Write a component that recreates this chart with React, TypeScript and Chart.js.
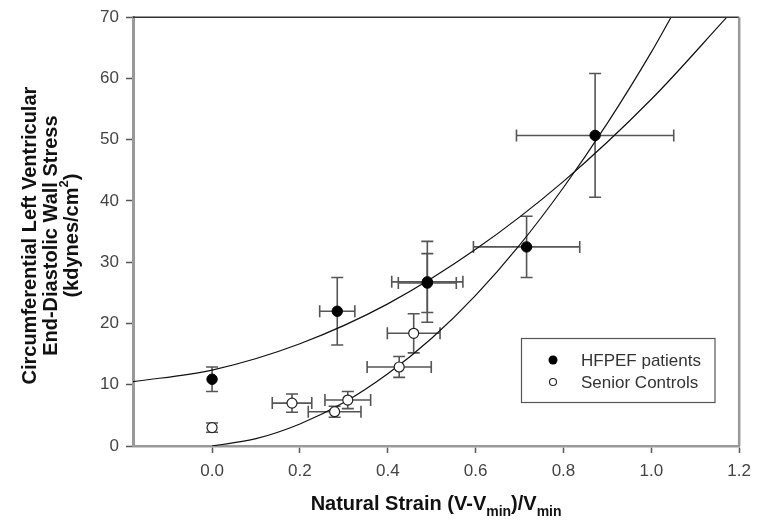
import React, { useEffect, useRef } from 'react';
import { Chart, registerables } from 'chart.js';

Chart.register(...registerables);

// ---- Data ----
const xTickValues = [0, 0.2, 0.4, 0.6, 0.8, 1.0, 1.2];
const yTickValues = [0, 10, 20, 30, 40, 50, 60, 70];

// HFPEF patients (filled)
const hfX = [0.0, 0.285, 0.49, 0.49, 0.716, 0.872];
const hfY = [10.9, 22.0, 26.8, 26.6, 32.5, 50.7];
const hfXErr = [0, 0.04, 0.081, 0.066, 0.121, 0.179];
const hfYErr = [2.0, 5.5, 6.6, 4.8, 5.0, 10.1];

// Senior Controls (open)
const scX = [0.0, 0.182, 0.279, 0.309, 0.426, 0.459];
const scY = [3.0, 7.0, 5.6, 7.5, 12.9, 18.4];
const scXErr = [0, 0.045, 0.06, 0.052, 0.073, 0.06];
const scYErr = [0.75, 1.5, 0.9, 1.4, 1.7, 3.2];

// Fitted curves
const curve1X = [-0.18, 0, 0.2, 0.4, 0.6, 0.8, 1.0, 1.172];
const curve1Y = [10.5, 12.4, 16.7, 23.2, 32.1, 43.2, 56.6, 70];
const curve2X = [0, 0.1, 0.2, 0.3, 0.4, 0.5, 0.6, 0.7, 0.8, 0.9, 1.0, 1.045];
const curve2Y = [0, 1.2, 3.6, 7.1, 11.8, 17.6, 24.6, 32.8, 42.2, 52.7, 64.3, 70];

const legendLabels = ['HFPEF patients', 'Senior Controls'];
const yTitleLines = ['Circumferential Left Ventricular', 'End-Diastolic Wall Stress'];

const FONT = "'Liberation Sans', Arial, Helvetica, sans-serif";

const toPts = (xs: number[], ys: number[]) => xs.map((x, i) => ({ x, y: ys[i] }));

const errorBarPlugin = {
  id: 'errorBars',
  beforeDatasetsDraw(chart: any) {
    const { ctx, scales } = chart;
    const xs = scales.x;
    const ys = scales.y;
    const cap = 6;
    const groups = [
      { X: hfX, Y: hfY, XE: hfXErr, YE: hfYErr },
      { X: scX, Y: scY, XE: scXErr, YE: scYErr },
    ];
    ctx.save();
    ctx.strokeStyle = '#555';
    ctx.lineWidth = 1.6;
    groups.forEach((g) => {
      g.X.forEach((xv, i) => {
        const yv = g.Y[i];
        const px = xs.getPixelForValue(xv);
        const py = ys.getPixelForValue(yv);
        if (g.YE[i] > 0) {
          const t = ys.getPixelForValue(yv + g.YE[i]);
          const b = ys.getPixelForValue(yv - g.YE[i]);
          ctx.beginPath();
          ctx.moveTo(px, t); ctx.lineTo(px, b);
          ctx.moveTo(px - cap, t); ctx.lineTo(px + cap, t);
          ctx.moveTo(px - cap, b); ctx.lineTo(px + cap, b);
          ctx.stroke();
        }
        if (g.XE[i] > 0) {
          const l = xs.getPixelForValue(xv - g.XE[i]);
          const r = xs.getPixelForValue(xv + g.XE[i]);
          ctx.beginPath();
          ctx.moveTo(l, py); ctx.lineTo(r, py);
          ctx.moveTo(l, py - cap); ctx.lineTo(l, py + cap);
          ctx.moveTo(r, py - cap); ctx.lineTo(r, py + cap);
          ctx.stroke();
        }
      });
    });
    ctx.restore();
  },
};

const decorPlugin = {
  id: 'decor',
  afterDraw(chart: any) {
    const { ctx, chartArea } = chart;
    const { left, right, top, bottom } = chartArea;
    ctx.save();
    // top & right frame
    ctx.strokeStyle = '#333';
    ctx.lineWidth = 1.5;
    ctx.beginPath();
    ctx.moveTo(left, top);
    ctx.lineTo(right, top);
    ctx.stroke();
    ctx.strokeStyle = '#999';
    ctx.lineWidth = 2.5;
    ctx.beginPath();
    ctx.moveTo(right, top);
    ctx.lineTo(right, bottom);
    ctx.stroke();

    // Y axis title
    ctx.fillStyle = '#111';
    const cy = (top + bottom) / 2 + 4;
    const lineXs = [30, 51, 72];
    ctx.textBaseline = 'middle';
    ctx.textAlign = 'center';
    yTitleLines.forEach((t, i) => {
      ctx.save();
      ctx.translate(lineXs[i], cy);
      ctx.rotate(-Math.PI / 2);
      ctx.font = `bold 20px ${FONT}`;
      ctx.fillText(t, 0, 0);
      ctx.restore();
    });
    // third line with superscript
    ctx.save();
    ctx.translate(lineXs[2], cy);
    ctx.rotate(-Math.PI / 2);
    ctx.textAlign = 'left';
    const big = `bold 20px ${FONT}`;
    const small = `bold 13px ${FONT}`;
    const p1 = '(kdynes/cm';
    const p2 = '2';
    const p3 = ')';
    ctx.font = big;
    const w1 = ctx.measureText(p1).width;
    const w3 = ctx.measureText(p3).width;
    ctx.font = small;
    const w2 = ctx.measureText(p2).width;
    let sx = -(w1 + w2 + w3) / 2;
    ctx.font = big;
    ctx.fillText(p1, sx, 0);
    sx += w1;
    ctx.font = small;
    ctx.fillText(p2, sx, -8);
    sx += w2;
    ctx.font = big;
    ctx.fillText(p3, sx, 0);
    ctx.restore();

    // X axis title with subscripts
    const parts: [string, boolean][] = [
      ['Natural Strain (V-V', false],
      ['min', true],
      [')/V', false],
      ['min', true],
    ];
    const bigX = `bold 20px ${FONT}`;
    const subX = `bold 14px ${FONT}`;
    let total = 0;
    const widths = parts.map(([t, s]) => {
      ctx.font = s ? subX : bigX;
      const w = ctx.measureText(t).width;
      total += w;
      return w;
    });
    let x0 = (left + right) / 2 - total / 2;
    const baseY = 510;
    ctx.textAlign = 'left';
    ctx.textBaseline = 'alphabetic';
    parts.forEach(([t, s], i) => {
      ctx.font = s ? subX : bigX;
      ctx.fillText(t, x0, s ? baseY + 6 : baseY);
      x0 += widths[i];
    });

    // Legend
    ctx.strokeStyle = '#555';
    ctx.lineWidth = 1.2;
    ctx.strokeRect(521.5, 338.5, 193.5, 64);
    ctx.font = `17px ${FONT}`;
    ctx.fillStyle = '#333';
    ctx.textBaseline = 'middle';
    ctx.fillText(legendLabels[0], 581, 361);
    ctx.fillText(legendLabels[1], 581, 383);
    ctx.beginPath();
    ctx.arc(553, 360, 4.5, 0, Math.PI * 2);
    ctx.fillStyle = '#000';
    ctx.fill();
    ctx.beginPath();
    ctx.arc(553, 382, 3.5, 0, Math.PI * 2);
    ctx.fillStyle = '#fff';
    ctx.fill();
    ctx.strokeStyle = '#222';
    ctx.lineWidth = 1.1;
    ctx.stroke();

    ctx.restore();
  },
};

export default function App() {
  const ref = useRef<HTMLCanvasElement>(null);

  useEffect(() => {
    if (!ref.current) return;
    const chart = new Chart(ref.current, {
      type: 'scatter',
      data: {
        datasets: [
          {
            label: legendLabels[0],
            data: toPts(hfX, hfY),
            pointRadius: 5.2,
            pointBackgroundColor: '#000',
            pointBorderColor: '#000',
            pointBorderWidth: 1,
            showLine: false,
          },
          {
            label: legendLabels[1],
            data: toPts(scX, scY),
            pointRadius: 5,
            pointBackgroundColor: '#fff',
            pointBorderColor: '#222',
            pointBorderWidth: 1.2,
            showLine: false,
          },
          {
            label: 'fit1',
            data: toPts(curve1X, curve1Y),
            showLine: true,
            pointRadius: 0,
            borderColor: '#111',
            borderWidth: 1.2,
            cubicInterpolationMode: 'monotone',
          } as any,
          {
            label: 'fit2',
            data: toPts(curve2X, curve2Y),
            showLine: true,
            pointRadius: 0,
            borderColor: '#111',
            borderWidth: 1.2,
            cubicInterpolationMode: 'monotone',
          } as any,
        ],
      },
      options: {
        animation: false,
        responsive: false,
        devicePixelRatio: 1,
        layout: { padding: { left: 0, top: 17, right: 14, bottom: 0 } },
        plugins: {
          legend: { display: false },
          tooltip: { enabled: false },
        },
        scales: {
          x: {
            type: 'linear',
            min: -0.18,
            max: 1.2,
            afterBuildTicks: (scale: any) => {
              scale.ticks = xTickValues.map((v) => ({ value: v }));
            },
            afterFit: (scale: any) => {
              scale.height = 81;
            },
            ticks: {
              callback: (v: any) => Number(v).toFixed(1),
              font: { family: FONT, size: 17 },
              color: '#444',
              padding: 8,
              maxRotation: 0,
            },
            grid: {
              drawOnChartArea: false,
              drawTicks: true,
              tickLength: 7,
              tickColor: '#555',
              tickWidth: 1.5,
            },
            border: { display: true, color: '#999', width: 2.5 },
          },
          y: {
            type: 'linear',
            min: 0,
            max: 70,
            afterBuildTicks: (scale: any) => {
              scale.ticks = yTickValues.map((v) => ({ value: v }));
            },
            afterFit: (scale: any) => {
              scale.width = 133;
            },
            ticks: {
              callback: (v: any) => String(v),
              font: { family: FONT, size: 17 },
              color: '#444',
              padding: 7,
            },
            grid: {
              drawOnChartArea: false,
              drawTicks: true,
              tickLength: 7,
              tickColor: '#555',
              tickWidth: 1.5,
            },
            border: { display: true, color: '#999', width: 3 },
          },
        },
      },
      plugins: [errorBarPlugin, decorPlugin],
    });
    return () => chart.destroy();
  }, []);

  return (
    <div style={{ position: 'absolute', left: 0, top: 0, width: 759, height: 527, background: '#fff' }}>
      <canvas ref={ref} width={759} height={527} style={{ display: 'block' }} />
    </div>
  );
}
